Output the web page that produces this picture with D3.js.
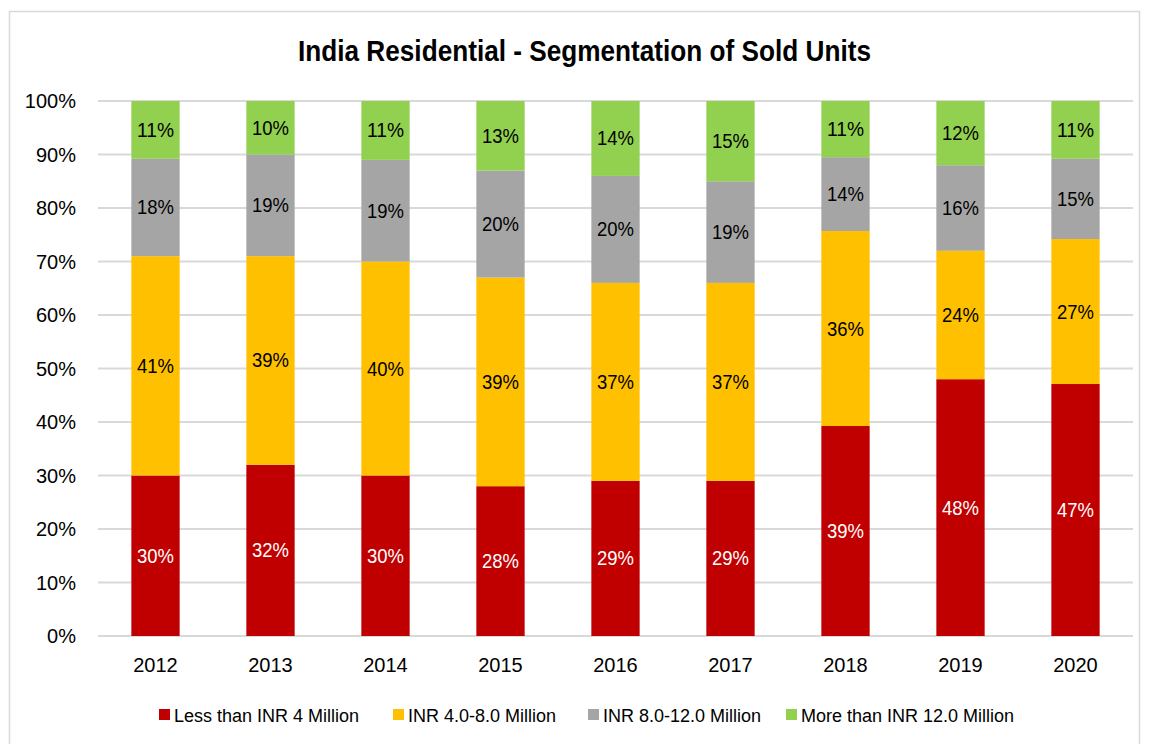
<!DOCTYPE html>
<html>
<head>
<meta charset="utf-8">
<script src="https://cdn.jsdelivr.net/npm/d3@7"></script>
<style>
    body { margin: 0; background: #fff; }
    svg text { font-family: "Liberation Sans Narrow", "Liberation Sans", Arial, sans-serif; }
</style>
</head>
<body>
<div id="chart"></div>
<script>
const years = ["2012", "2013", "2014", "2015", "2016", "2017", "2018", "2019", "2020"];
const seriesNames = ["Less than INR 4 Million", "INR 4.0-8.0 Million", "INR 8.0-12.0 Million", "More than INR 12.0 Million"];
const lessThan4 = [30, 32, 30, 28, 29, 29, 39.25, 48, 47.1];
const from4to8 = [41, 39, 40, 39, 37, 37, 36.45, 24, 27.1];
const from8to12 = [18.2, 19, 19, 20, 20, 19, 13.8, 16, 15];
const moreThan12 = [10.8, 10, 11, 13, 14, 15, 10.5, 12, 10.8];
const yTicks = [0, 10, 20, 30, 40, 50, 60, 70, 80, 90, 100];
const colors = ["#c00000", "#ffc000", "#a5a5a5", "#92d050"];
const labelColors = ["#fff", "#000", "#000", "#000"];

const width = 1149, height = 744;
const margin = { top: 101, right: 16, bottom: 108, left: 98 };

const svg = d3.select("#chart").append("svg")
    .attr("width", width)
    .attr("height", height);

// outer border
svg.append("rect")
    .attr("x", 9.5).attr("y", 11.5)
    .attr("width", width - 19).attr("height", height - 10)
    .attr("fill", "none").attr("stroke", "#d9d9d9").attr("stroke-width", 1.5);

svg.append("text")
    .attr("x", 298).attr("y", 61)
    .attr("font-size", 30).attr("font-weight", "bold")
    .attr("textLength", 573).attr("lengthAdjust", "spacingAndGlyphs")
    .text("India Residential - Segmentation of Sold Units");

const x = d3.scaleBand()
    .domain(years)
    .range([margin.left, width - margin.right])
    .paddingInner(0.58)
    .paddingOuter(0.29);

const y = d3.scaleLinear()
    .domain([0, 100])
    .range([height - margin.bottom, margin.top]);

// gridlines
svg.append("g")
    .selectAll("line")
    .data(yTicks)
    .join("line")
    .attr("x1", margin.left).attr("x2", width - margin.right)
    .attr("y1", d => y(d)).attr("y2", d => y(d))
    .attr("stroke", "#d9d9d9").attr("stroke-width", 2);

svg.append("g")
    .selectAll("text")
    .data(yTicks)
    .join("text")
    .attr("x", 76).attr("y", d => y(d) + 7)
    .attr("text-anchor", "end")
    .attr("font-size", 20)
    .text(d => d + "%");

svg.append("g")
    .selectAll("text")
    .data(years)
    .join("text")
    .attr("x", d => x(d) + x.bandwidth() / 2)
    .attr("y", 672)
    .attr("text-anchor", "middle")
    .attr("font-size", 20)
    .text(d => d);

const table = years.map((yr, i) => ({
    year: yr,
    s0: lessThan4[i], s1: from4to8[i], s2: from8to12[i], s3: moreThan12[i]
}));
const keys = ["s0", "s1", "s2", "s3"];
const stacked = d3.stack().keys(keys)(table);

const layers = svg.append("g")
    .selectAll("g")
    .data(stacked)
    .join("g")
    .attr("fill", (d, i) => colors[i]);

layers.selectAll("rect")
    .data(d => d)
    .join("rect")
    .attr("x", d => x(d.data.year))
    .attr("width", x.bandwidth())
    .attr("y", d => y(Math.min(d[1], 100)))
    .attr("height", d => y(d[0]) - y(Math.min(d[1], 100)));

layers.selectAll("text")
    .data((d, i) => d.map(p => ({ p, i })))
    .join("text")
    .attr("x", d => x(d.p.data.year) + x.bandwidth() / 2)
    .attr("y", d => (y(d.p[0]) + y(Math.min(d.p[1], 100))) / 2 + 7)
    .attr("text-anchor", "middle")
    .attr("font-size", 21)
    .attr("textLength", 37).attr("lengthAdjust", "spacingAndGlyphs")
    .attr("fill", d => labelColors[d.i])
    .text(d => Math.round(d.p[1] - d.p[0]) + "%");

// legend
const legendX = [159, 393, 588, 786];
const legend = svg.append("g")
    .selectAll("g")
    .data(seriesNames)
    .join("g")
    .attr("transform", (d, i) => `translate(${legendX[i]},715)`);
legend.append("rect")
    .attr("x", 0).attr("y", -6).attr("width", 11).attr("height", 11)
    .attr("fill", (d, i) => colors[i]);
legend.append("text")
    .attr("x", 15).attr("y", 7)
    .attr("font-size", 18)
    .text(d => d);
</script>
</body>
</html>
